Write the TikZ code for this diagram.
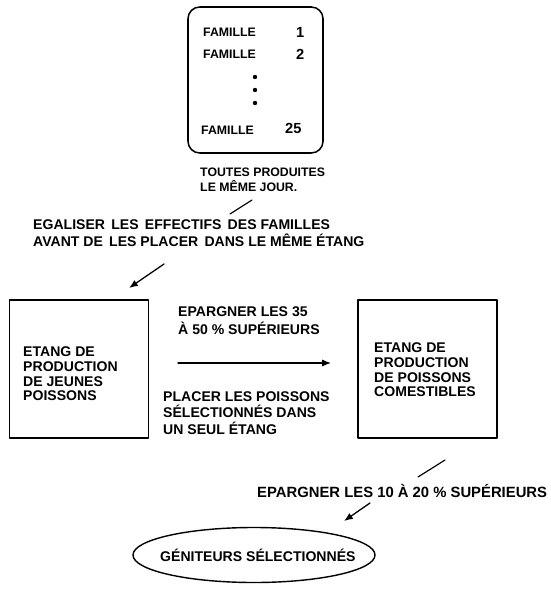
\documentclass[tikz,border=0pt]{standalone}
\usepackage{fontspec}
\setmainfont{Liberation Sans}
\usetikzlibrary{shapes.geometric,arrows.meta}
\begin{document}
\begin{tikzpicture}[x=0.03cm,y=-0.03cm,>={Latex[length=7.5pt,width=6pt]},line join=round,line cap=round,
    txt/.style={anchor=west,inner sep=0pt,align=left,font=\bfseries\fontsize{12}{15.3}\selectfont},
    fam/.style={anchor=west,inner sep=0pt,font=\bfseries\fontsize{10.5}{12}\selectfont},
    num/.style={anchor=west,inner sep=0pt,font=\bfseries\fontsize{12.5}{12}\selectfont},
    pond/.style={draw,line width=1.3pt,minimum width=4.17cm,minimum height=4.14cm,inner sep=0pt}]
    \useasboundingbox (0,0) rectangle (550,596);
    % family box
    \node[draw,line width=1.3pt,rounded corners=0.35cm,minimum width=4.05cm,minimum height=4.38cm] (famille) at (255.5,80) {};
    \node[fam] (f1) at (203,32) {FAMILLE};
    \node[num] (n1) at (296,32) {1};
    \node[fam] (f2) at (203,54) {FAMILLE};
    \node[num] (n2) at (296,54) {2};
    \foreach \y in {77,90,103} \fill (255,\y) circle (2.2);
    \node[fam] (f25) at (201,130) {FAMILLE};
    \node[num] (n25) at (285,128) {25};
    \node[txt,font=\bfseries\fontsize{10.5}{13}\selectfont] (jour) at (200,180) {TOUTES PRODUITES\\LE MÊME JOUR.};
    \node[txt,font=\bfseries\fontsize{12}{14.5}\selectfont] (egal) at (33,233) {EGALISER\, LES\, EFFECTIFS\, DES FAMILLES\\AVANT DE\, LES PLACER\, DANS LE MÊME ÉTANG};
    % ponds
    \node[pond] (jeunes) at (79,369) {};
    \node[txt,font=\bfseries\fontsize{12}{12.5}\selectfont] at (23,374) {ETANG DE\\PRODUCTION\\DE JEUNES\\POISSONS};
    \node[pond] (comest) at (427.5,369) {};
    \node[txt,font=\bfseries\fontsize{12}{12.5}\selectfont] at (374,370) {ETANG DE\\PRODUCTION\\DE POISSONS\\COMESTIBLES};
    \node[txt] (ep35) at (178,321) {EPARGNER LES 35\\À 50 \% SUPÉRIEURS};
    \node[txt,font=\bfseries\fontsize{12}{14.3}\selectfont] (placer) at (163,413) {PLACER LES POISSONS\\SÉLECTIONNÉS DANS\\UN SEUL ÉTANG};
    \node[txt,font=\bfseries\fontsize{12.66}{15}\selectfont] (ep10) at (257,491) {EPARGNER LES 10 À 20 \% SUPÉRIEURS};
    \node[draw,ellipse,line width=1.2pt,minimum width=7.26cm,minimum height=1.65cm] (geni) at (254,555) {};
    \node[txt] at (160,555) {GÉNITEURS SÉLECTIONNÉS};
    % connectors
    \coordinate (a1) at (252,200);
    \coordinate (a2) at (230,214);
    \coordinate (b1) at (164,264);
    \coordinate (b2) at (129,288);
    \coordinate (c1) at (178,363);
    \coordinate (c2) at (331,363);
    \coordinate (d1) at (445,460);
    \coordinate (d2) at (418,477);
    \coordinate (e1) at (370,503);
    \coordinate (e2) at (344,521);
    \draw[line width=1pt] (a1)--(a2);
    \draw[->,line width=1.1pt] (b1)--(b2);
    \draw[->,line width=1.1pt] (c1)--(c2);
    \draw[line width=1pt] (d1)--(d2);
    \draw[->,line width=1.1pt] (e1)--(e2);
\end{tikzpicture}
\end{document}
